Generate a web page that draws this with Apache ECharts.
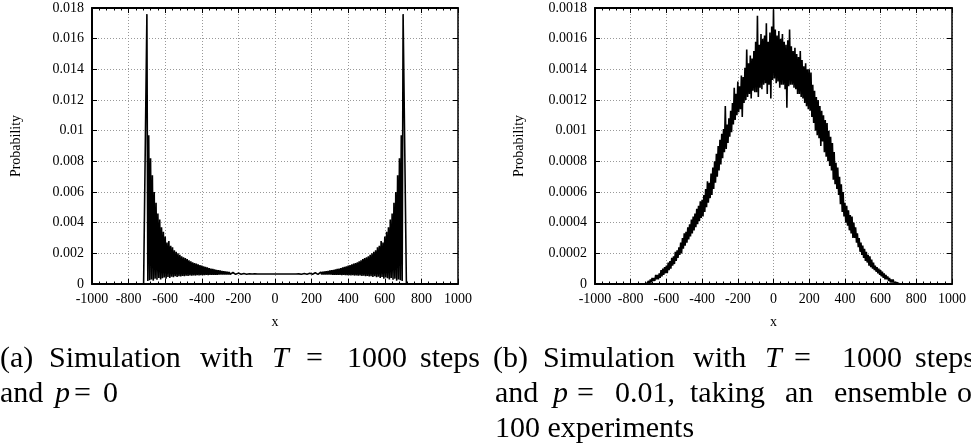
<!DOCTYPE html>
<html>
<head>
<meta charset="utf-8">
<script src="https://cdn.jsdelivr.net/npm/echarts@6/dist/echarts.min.js"></script>
<style>
html,body{margin:0;padding:0;background:#fff;}
#c{width:971px;height:448px;}
</style>
</head>
<body>
<div id="c"></div>
<script>
// ---------- DATA ----------
const xTicks = [-1000, 1000, 200];            // min, max, interval
const leftYTicks = [0, 0.018, 0.002];
const rightYTicks = [0, 0.0018, 0.0002];

// Panel (a): p = 0. Sample grid: upper points at x = -700..700 step 10, lower points at -695..695 step 10
const leftHiX0 = -700, leftLoX0 = -695, sampleStep = 10;
const leftEdges = [[-1000, 0], [-718, 0], [718, 0], [1000, 0]];
const leftHi = [
  0.0176, 0.0097, 0.0082, 0.0071, 0.0060, 0.0053, 0.0046, 0.0042, 0.0037, 0.0034,
  0.0031, 0.0027, 0.0028, 0.0025, 0.0024, 0.0022, 0.0021, 0.0020, 0.0019, 0.0018,
  0.00175, 0.0017, 0.00162, 0.00155, 0.00148, 0.00142, 0.00137, 0.00133, 0.00128, 0.00124,
  0.0012, 0.00116, 0.00112, 0.00108, 0.00104, 0.00101, 0.00098, 0.00095, 0.00092, 0.0009,
  0.00088, 0.00086, 0.00084, 0.00082, 0.0008, 0.00078, 0.00076, 0.00075, 0.00073, 0.00072,
  0.00071, 0.0007, 0.00069, 0.00068, 0.00068, 0.00067, 0.00067, 0.00066, 0.00066, 0.00066,
  0.00065, 0.00065, 0.00065, 0.00065, 0.00065, 0.00065, 0.00065, 0.00065, 0.00065, 0.00065,
  0.00065,
  0.00065, 0.00065, 0.00065, 0.00065, 0.00065, 0.00065, 0.00065, 0.00065, 0.00065, 0.00065,
  0.00066, 0.00066, 0.00066, 0.00067, 0.00067, 0.00068, 0.00068, 0.00069, 0.0007, 0.00071,
  0.00072, 0.00073, 0.00075, 0.00076, 0.00078, 0.0008, 0.00082, 0.00084, 0.00086, 0.00088,
  0.0009, 0.00092, 0.00095, 0.00098, 0.00101, 0.00104, 0.00108, 0.00112, 0.00116, 0.0012,
  0.00124, 0.00128, 0.00133, 0.00137, 0.00142, 0.00148, 0.00155, 0.00162, 0.0017, 0.00175,
  0.0018, 0.0019, 0.002, 0.0021, 0.0022, 0.0024, 0.0025, 0.0028, 0.0027, 0.0031,
  0.0034, 0.0037, 0.0042, 0.0046, 0.0053, 0.006, 0.0071, 0.0082, 0.0097, 0.0176
];
const leftLo = [
  0.0002, 0.00025, 0.0003, 0.00022, 0.00035, 0.00028, 0.0004, 0.0003, 0.00038, 0.00042,
  0.00035, 0.00045, 0.0004, 0.00048, 0.00044, 0.0005, 0.00046, 0.00051, 0.00049, 0.00053,
  0.00051, 0.00054, 0.00053, 0.00055, 0.00054, 0.00056, 0.00055, 0.00057, 0.00056, 0.00057,
  0.00058, 0.00057, 0.00059, 0.00058, 0.00059, 0.0006, 0.00059, 0.0006, 0.0006, 0.00061,
  0.00061, 0.00061, 0.00062, 0.00062, 0.00062, 0.00063, 0.00063, 0.00063, 0.00063, 0.00064,
  0.00064, 0.00064, 0.00064, 0.00064, 0.00064, 0.00064, 0.00065, 0.00065, 0.00065, 0.00065,
  0.00065, 0.00065, 0.00065, 0.00065, 0.00065, 0.00065, 0.00065, 0.00065, 0.00065, 0.00065,
  0.00065, 0.00065, 0.00065, 0.00065, 0.00065, 0.00065, 0.00065, 0.00065, 0.00065, 0.00065,
  0.00065, 0.00065, 0.00065, 0.00065, 0.00064, 0.00064, 0.00064, 0.00064, 0.00064, 0.00064,
  0.00064, 0.00063, 0.00063, 0.00063, 0.00063, 0.00062, 0.00062, 0.00062, 0.00061, 0.00061,
  0.00061, 0.0006, 0.0006, 0.00059, 0.0006, 0.00059, 0.00058, 0.00059, 0.00057, 0.00058,
  0.00057, 0.00056, 0.00057, 0.00055, 0.00056, 0.00054, 0.00055, 0.00053, 0.00054, 0.00051,
  0.00053, 0.00049, 0.00051, 0.00046, 0.0005, 0.00044, 0.00048, 0.0004, 0.00045, 0.00035,
  0.00042, 0.00038, 0.0003, 0.0004, 0.00028, 0.00035, 0.00022, 0.0003, 0.00025, 0.0002
];

// Panel (b): p = 0.01, ensemble of 100. Upper points at -700..700 step 10, lower at -695..695
const rightHiX0 = -700, rightLoX0 = -695;
const rightEdges = [[-712, 0], [-1000, 0], [708, 0], [1000, 0]];
const rightHi = [
  0.00002, 0.00003, 0.00004, 0.00004, 0.00006, 0.00006, 0.00007, 0.00009, 0.0001, 0.00011,
  0.00012, 0.00014, 0.00015, 0.00017, 0.00018, 0.00021, 0.00022, 0.00024, 0.00027, 0.0003,
  0.00033, 0.00034, 0.00037, 0.00039, 0.00042, 0.00044, 0.00046, 0.00049, 0.00051, 0.00054,
  0.00055, 0.00058, 0.00062, 0.00067, 0.00066, 0.00072, 0.00076, 0.0008, 0.00085, 0.0009,
  0.00094, 0.00098, 0.00101, 0.00116, 0.00104, 0.00108, 0.00113, 0.00118, 0.00128, 0.00124,
  0.00132, 0.00129, 0.00136, 0.00135, 0.00141, 0.00153, 0.00144, 0.00149, 0.00147, 0.00152,
  0.00158, 0.00175, 0.00156, 0.00163, 0.0016, 0.00162, 0.0017, 0.00158, 0.00164, 0.00168,
  0.00179, 0.00166, 0.00162, 0.00165, 0.0016, 0.00163, 0.00158, 0.00156, 0.00159, 0.00166,
  0.00155, 0.00152, 0.00154, 0.0015, 0.00148, 0.00152, 0.00146, 0.00142, 0.00144, 0.0014,
  0.0014, 0.00138, 0.0013, 0.00126, 0.00122, 0.0012, 0.00116, 0.00113, 0.0011, 0.00107,
  0.00105, 0.001, 0.00096, 0.00092, 0.00086, 0.00079, 0.00076, 0.0007, 0.00065, 0.0006,
  0.00053, 0.00051, 0.00048, 0.00045, 0.00044, 0.0004, 0.00037, 0.00033, 0.0003, 0.00027,
  0.00025, 0.00023, 0.00021, 0.00019, 0.00018, 0.00016, 0.00014, 0.00012, 0.00011, 0.0001,
  0.00009, 0.00008, 0.00007, 0.00006, 0.00005, 0.00004, 0.00003, 0.00003, 0.00002, 0.00001,
  0.00001
];
const rightLo = [
  0.0, 0.00001, 0.00002, 0.00002, 0.00003, 0.00003, 0.00004, 0.00005, 0.00006, 0.00007,
  0.00007, 0.00009, 0.0001, 0.00012, 0.00013, 0.00015, 0.00017, 0.00019, 0.0002, 0.00023,
  0.00025, 0.00027, 0.00029, 0.00031, 0.00033, 0.00035, 0.00037, 0.00039, 0.00041, 0.00043,
  0.00044, 0.00047, 0.0005, 0.00053, 0.00056, 0.00058, 0.00062, 0.00066, 0.0007, 0.00074,
  0.00078, 0.00082, 0.00086, 0.00088, 0.00092, 0.00096, 0.00099, 0.00104, 0.00107, 0.0011,
  0.00112, 0.00114, 0.00109, 0.00118, 0.0012, 0.00122, 0.00124, 0.00121, 0.00126, 0.00125,
  0.00125, 0.00122, 0.00128, 0.00127, 0.0013, 0.00131, 0.00124, 0.0013, 0.00121, 0.00133,
  0.00134, 0.00131, 0.00132, 0.00128, 0.0013, 0.0013, 0.00127, 0.00115, 0.00129, 0.0013,
  0.0013, 0.00128, 0.00127, 0.00124, 0.00124, 0.00122, 0.00121, 0.00118, 0.00116, 0.00114,
  0.00113, 0.00109, 0.00105, 0.001, 0.00097, 0.00095, 0.0009, 0.00093, 0.00086, 0.00083,
  0.0008, 0.00077, 0.00074, 0.00068, 0.00065, 0.00062, 0.00058, 0.00052, 0.00047, 0.00044,
  0.0004, 0.00038, 0.00035, 0.00033, 0.0003, 0.0003, 0.00027, 0.00024, 0.00021, 0.00019,
  0.00017, 0.00015, 0.00014, 0.00012, 0.00011, 0.0001, 0.00009, 0.00008, 0.00007, 0.00006,
  0.00005, 0.00004, 0.00003, 0.00003, 0.00002, 0.00001, 0.00001, 0.00001, 0.0, 0.0
];

// Caption text pieces
const captionA1 = ['(a)', 'Simulation', 'with', 'T', '=', '1000', 'steps'];
const captionA2 = ['and', 'p', '=', '0'];
const captionB1 = ['(b)', 'Simulation', 'with', 'T', '=', '1000', 'steps'];
const captionB2 = ['and', 'p', '=', '0.01,', 'taking', 'an', 'ensemble', 'of'];
const captionB3 = ['100 experiments'];
const axisNames = ['x', 'Probability'];

// ---------- BUILD ----------
function zigzag(hiX0, loX0, step, hi, lo, leftEdge, rightEdge) {
  const pts = leftEdge.slice();
  for (let i = 0; i < hi.length; i++) {
    pts.push([hiX0 + i * step, hi[i]]);
    if (i < lo.length) pts.push([loX0 + i * step, lo[i]]);
  }
  return pts.concat(rightEdge);
}
const leftData = zigzag(leftHiX0, leftLoX0, sampleStep, leftHi, leftLo,
  [leftEdges[0], leftEdges[1]], [leftEdges[2], leftEdges[3]]);
const rightData = zigzag(rightHiX0, rightLoX0, sampleStep, rightHi, rightLo,
  [rightEdges[1], rightEdges[0]], [rightEdges[2], rightEdges[3]]);

const FONT = '"Liberation Serif", "Times New Roman", serif';
const labelStyle = { fontFamily: FONT, fontSize: 14, color: '#000' };
const gridLine = { show: true, lineStyle: { color: '#999', width: 1, type: [1, 2] } };
const plain = v => String(v);

function xAxes(gi) {
  return [{
    gridIndex: gi, type: 'value', min: xTicks[0], max: xTicks[1], interval: xTicks[2],
    position: 'bottom',
    name: axisNames[0], nameLocation: 'middle', nameGap: 31,
    nameTextStyle: { fontFamily: FONT, fontSize: 14, color: '#000' },
    axisLine: { show: true, onZero: false, lineStyle: { color: '#000', width: 2 } },
    axisTick: { show: true, inside: true, length: 5, lineStyle: { color: '#000', width: 1 } },
    minorTick: { show: true, splitNumber: 5, length: 2.5, lineStyle: { color: '#000', width: 1 } },
    axisLabel: Object.assign({ margin: 8, formatter: plain }, labelStyle),
    splitLine: gridLine
  }, {
    gridIndex: gi, type: 'value', min: xTicks[0], max: xTicks[1], interval: xTicks[2],
    position: 'top',
    axisLine: { show: true, onZero: false, lineStyle: { color: '#000', width: 2 } },
    axisTick: { show: true, inside: true, length: 5, lineStyle: { color: '#000', width: 1 } },
    minorTick: { show: true, splitNumber: 5, length: 2.5, lineStyle: { color: '#000', width: 1 } },
    axisLabel: { show: false },
    splitLine: { show: false }
  }];
}
function yAxes(gi, t) {
  return [{
    gridIndex: gi, type: 'value', min: t[0], max: t[1], interval: t[2],
    position: 'left',
    name: axisNames[1], nameLocation: 'middle', nameGap: 69, nameRotate: 90,
    nameTextStyle: { fontFamily: FONT, fontSize: 14, color: '#000' },
    axisLine: { show: true, onZero: false, lineStyle: { color: '#000', width: 2 } },
    axisTick: { show: true, inside: true, length: 5, lineStyle: { color: '#000', width: 1 } },
    axisLabel: Object.assign({ margin: 8 }, labelStyle),
    splitLine: gridLine
  }, {
    gridIndex: gi, type: 'value', min: t[0], max: t[1], interval: t[2],
    position: 'right',
    axisLine: { show: true, onZero: false, lineStyle: { color: '#000', width: 1.5 } },
    axisTick: { show: true, inside: true, length: 5, lineStyle: { color: '#000', width: 1 } },
    axisLabel: { show: false },
    splitLine: { show: false }
  }];
}

// caption placement: left x of each word, middle of the text row
const capFont = 30;
function capTexts(words, xs, yMid, italicIdx) {
  return words.map((w, i) => ({
    type: 'text', x: xs[i], y: yMid, silent: true,
    style: {
      text: w,
      fontFamily: FONT, fontSize: capFont,
      fontStyle: italicIdx.indexOf(i) >= 0 ? 'italic' : 'normal',
      fill: '#000',
      align: 'left', verticalAlign: 'middle'
    }
  }));
}
const row1 = 359, row2 = 394, row3 = 429;
const graphics = []
  .concat(capTexts(captionA1, [0, 49, 200, 272, 306, 347, 420], row1, [3]))
  .concat(capTexts(captionA2, [0, 55, 74, 103], row2, [1]))
  .concat(capTexts(captionB1, [493, 543, 693, 765, 794, 842, 915], row1, [3]))
  .concat(capTexts(captionB2, [495, 553, 577, 615, 690, 785, 834, 957], row2, [1]))
  .concat(capTexts(captionB3, [495], row3, []));

const chart = echarts.init(document.getElementById('c'), null, { renderer: 'canvas' });
chart.setOption({
  animation: false,
  backgroundColor: '#fff',
  grid: [
    { left: 92, top: 8, width: 366, height: 276, containLabel: false, outerBoundsMode: 'none' },
    { left: 595, top: 8, width: 357, height: 276, containLabel: false, outerBoundsMode: 'none' }
  ],
  xAxis: xAxes(0).concat(xAxes(1)),
  yAxis: yAxes(0, leftYTicks).concat(yAxes(1, rightYTicks)),
  series: [
    { type: 'line', xAxisIndex: 0, yAxisIndex: 0, data: leftData, symbol: 'none',
      lineStyle: { color: '#000', width: 1.6 }, silent: true, z: 3 },
    { type: 'line', xAxisIndex: 2, yAxisIndex: 2, data: rightData, symbol: 'none',
      lineStyle: { color: '#000', width: 1.6 }, silent: true, z: 3 }
  ],
  graphic: graphics
});
</script>
</body>
</html>
